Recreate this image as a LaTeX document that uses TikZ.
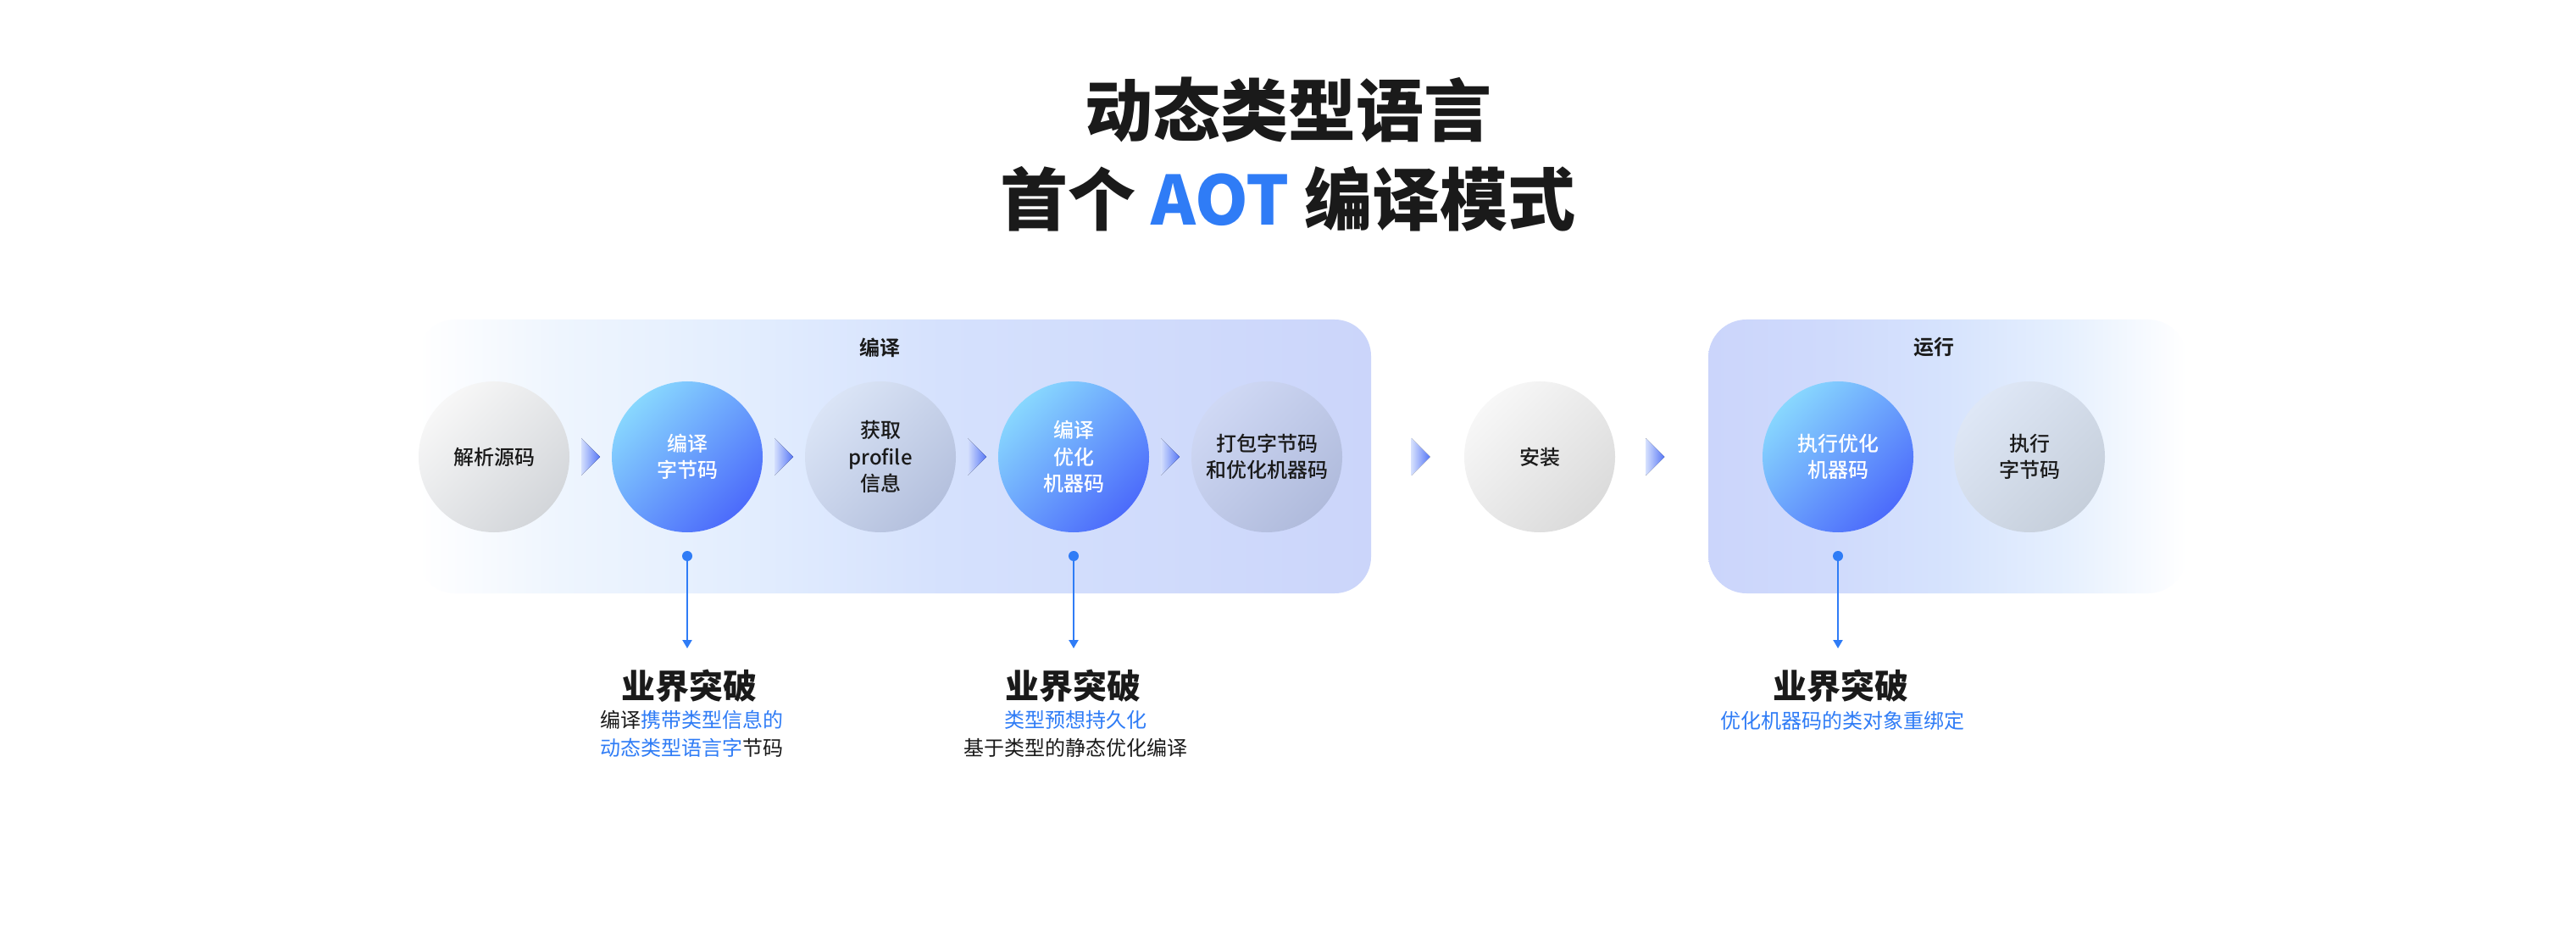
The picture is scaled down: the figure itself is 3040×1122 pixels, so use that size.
\documentclass[tikz,border=0pt]{standalone}
\usepackage{fontspec}
\setmainfont{Noto Sans CJK SC}[BoldFont={Noto Sans CJK SC Bold}]
\newfontfamily\medfont{Noto Sans CJK SC Medium}
\newfontfamily\heavyfont{Noto Sans CJK SC Black}
\usetikzlibrary{calc,arrows.meta}
\definecolor{ink}{HTML}{1A1A1A}
\definecolor{accent}{HTML}{2F7CF6}
\definecolor{bluelight}{HTML}{88D7FE}
\definecolor{bluedark}{HTML}{4C6BFB}
\definecolor{chevl}{HTML}{D4DFFD}
\definecolor{chevr}{HTML}{5676F6}
\definecolor{g1a}{HTML}{F7F7F7}\definecolor{g1b}{HTML}{D3D6DA}
\definecolor{g3a}{HTML}{DAE4F6}\definecolor{g3b}{HTML}{B4C0DD}
\definecolor{g5a}{HTML}{CFD8F4}\definecolor{g5b}{HTML}{B0BBDC}
\definecolor{g6a}{HTML}{F7F7F7}\definecolor{g6b}{HTML}{DBDBDB}
\definecolor{g8a}{HTML}{DEE7F6}\definecolor{g8b}{HTML}{C6CFDB}
\definecolor{ba0}{HTML}{FFFFFF}
\definecolor{ba1}{HTML}{EEF5FE}
\definecolor{ba2}{HTML}{E2EDFE}
\definecolor{ba3}{HTML}{D5E1FD}
\definecolor{ba4}{HTML}{CBD5FA}
\definecolor{bb0}{HTML}{CBD5FB}
\definecolor{bb1}{HTML}{CFDAFC}
\definecolor{bb2}{HTML}{D6E3FD}
\definecolor{bb3}{HTML}{E6F0FE}
\pgfdeclarehorizontalshading{boxone}{100bp}{color(0bp)=(ba0); color(25bp)=(ba0);
  color(32.5bp)=(ba1); color(42.5bp)=(ba2); color(52.5bp)=(ba3); color(75bp)=(ba4); color(100bp)=(ba4)}
\pgfdeclarehorizontalshading{boxtwo}{100bp}{color(0bp)=(bb0); color(25bp)=(bb0);
  color(37.5bp)=(bb1); color(50bp)=(bb2); color(62.5bp)=(bb3); color(75bp)=(ba0); color(100bp)=(ba0)}
\tikzset{
  stepc/.style={circle, minimum size=89pt, inner sep=0pt, align=center,
    font=\medfont\fontsize{12}{15.75}\selectfont},
  bluec/.style={stepc, top color=bluelight, bottom color=bluedark, shading angle=45, text=white},
  grayc/.style 2 args={stepc, top color=#1, bottom color=#2, shading angle=45, text=ink},
  grouplabel/.style={font=\fontsize{12}{12}\selectfont\bfseries, text=ink},
  headline/.style={font=\heavyfont\fontsize{20}{20}\selectfont, text=ink},
  titleline/.style={font=\heavyfont\fontsize{40}{40}\selectfont, text=ink},
  subline/.style={font=\fontsize{12}{16.5}\selectfont, text=ink, align=center},
  dotc/.style={circle, fill=accent, inner sep=0pt, minimum size=6pt},
  conn/.style={draw=accent, line width=1.1pt, -{Triangle[width=5.5pt,length=5pt]}},
}
\newcommand\chevat[1]{%
  \fill[left color=chevl, right color=chevr]
    ($#1+(-11,-22)$) -- ($#1+(11,0)$) -- ($#1+(-11,22)$) -- cycle;}
\begin{document}
\begin{tikzpicture}[x=0.5pt, y=-0.5pt]
\useasboundingbox (0,0) rectangle (3040,1122);
\fill[white] (0,0) rectangle (3040,1122);

% title
\node[titleline] (title1) at (1520,130) {动态类型语言};
\node[titleline] (title2) at (1520,235) {首个 \textcolor{accent}{AOT} 编译模式};

% group boxes
\path[shading=boxone, rounded corners=21.5pt] (494,377) rectangle (1618,700);
\path[shading=boxtwo, rounded corners=22.5pt] (2016,377) rectangle (2580,700);
\node[grouplabel] (g1) at (1038,410) {编译};
\node[grouplabel] (g2) at (2282,410) {运行};

% steps
\node[grayc={g1a}{g1b}] (c1) at (583,539) {解析源码};
\node[bluec] (c2) at (811,539) {编译\\字节码};
\node[grayc={g3a}{g3b}] (c3) at (1039,539) {获取\\profile\\信息};
\node[bluec] (c4) at (1267,539) {编译\\优化\\机器码};
\node[grayc={g5a}{g5b}] (c5) at (1495,539) {打包字节码\\和优化机器码};
\node[grayc={g6a}{g6b}] (az) at (1817,539) {安装};
\node[bluec] (r1) at (2169,539) {执行优化\\机器码};
\node[grayc={g8a}{g8b}] (r2) at (2395,539) {执行\\字节码};

% chevrons
\chevat{($(c1.east)!0.5!(c2.west)$)}
\chevat{($(c2.east)!0.5!(c3.west)$)}
\chevat{($(c3.east)!0.5!(c4.west)$)}
\chevat{($(c4.east)!0.5!(c5.west)$)}
\chevat{($(az.west)+(-51,0)$)}
\chevat{($(az.east)+(47,0)$)}

% callouts
\node[dotc] (d1) at (c2.center |- 0,656) {};
\node[dotc] (d2) at (c4.center |- 0,656) {};
\node[dotc] (d3) at (r1.center |- 0,656) {};
\coordinate (e1) at (d1.center |- 0,765);
\coordinate (e2) at (d2.center |- 0,765);
\coordinate (e3) at (d3.center |- 0,765);
\draw[conn] (d1.center) -- (e1);
\draw[conn] (d2.center) -- (e2);
\draw[conn] (d3.center) -- (e3);

\node[headline] (h1) at (813,809) {业界突破};
\node[headline] (h2) at (1266,809) {业界突破};
\node[headline] (h3) at (2172,809) {业界突破};
\node[subline] (s1) at (816,866) {编译\textcolor{accent}{携带类型信息的}\\\textcolor{accent}{动态类型语言字}节码};
\node[subline] (s2) at (1269,866) {\textcolor{accent}{类型预想持久化}\\基于类型的静态优化编译};
\node[subline] (s3) at (2174,850) {\textcolor{accent}{优化机器码的类对象重绑定}};
\end{tikzpicture}
\end{document}
